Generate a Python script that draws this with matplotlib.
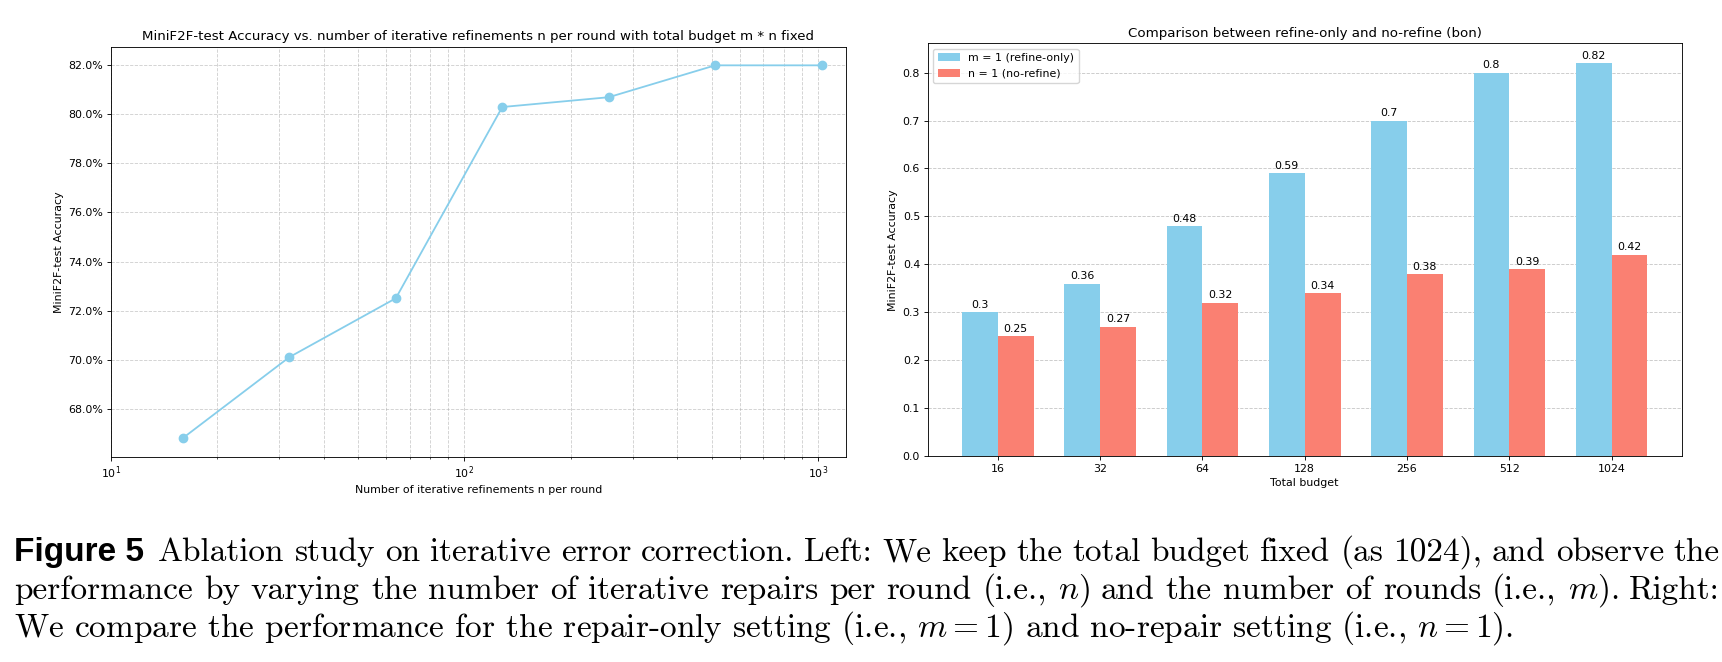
"""
Figure 5: ablation on iterative error correction (miniF2F-test).
Left: accuracy vs. refinements per round n (budget m*n = 1024 fixed).
Right: refine-only (m=1) vs. no-refine (n=1) across total budgets.
"""

import matplotlib
matplotlib.use("Agg")
import matplotlib.pyplot as plt
import matplotlib.ticker as ticker
import numpy as np

# left panel
n_per_round = [16, 32, 64, 128, 256, 512, 1024]
acc_fixed_budget = [0.668, 0.701, 0.725, 0.803, 0.807, 0.820, 0.820]

# right panel
budgets = ["16", "32", "64", "128", "256", "512", "1024"]
refine_only = [0.30, 0.36, 0.48, 0.59, 0.70, 0.80, 0.82]
no_refine = [0.25, 0.27, 0.32, 0.34, 0.38, 0.39, 0.42]

caption_lines = [
    r"Ablation study on iterative error correction. Left: We keep the total budget fixed (as 1024), and observe the",
    r"performance by varying the number of iterative repairs per round (i.e., $n$) and the number of rounds (i.e., $m$). Right:",
    r"We compare the performance for the repair-only setting (i.e., $m=1$) and no-repair setting (i.e., $n=1$).",
]

# the original plots were rendered bigger and shrunk into the page,
# so scale default paddings / line widths by roughly the same factor
S = 0.79
FS = 7.9      # ticks / labels
TFS = 9.6     # titles
plt.rcParams.update({
    "axes.linewidth": 0.8 * S,
    "grid.linewidth": 0.8 * S,
    "xtick.major.size": 3.5 * S, "ytick.major.size": 3.5 * S,
    "xtick.minor.size": 2.0 * S, "ytick.minor.size": 2.0 * S,
    "xtick.major.width": 0.8 * S, "ytick.major.width": 0.8 * S,
    "xtick.minor.width": 0.6 * S, "ytick.minor.width": 0.6 * S,
    "xtick.major.pad": 3.5 * S, "ytick.major.pad": 3.5 * S,
    "xtick.minor.pad": 3.4 * S,
    "axes.labelpad": 4.0 * S,
    "axes.titlepad": 6.0 * S,
})

W, H = 1722, 662
fig = plt.figure(figsize=(W / 100, H / 100), dpi=100)

def px_axes(x0, y0, x1, y1):
    return fig.add_axes([x0 / W, 1 - y1 / H, (x1 - x0) / W, (y1 - y0) / H])

# ---- left: fixed budget sweep
ax1 = px_axes(110.7, 46.7, 846, 456.7)
ax1.plot(n_per_round, acc_fixed_budget, marker="o", color="skyblue",
         lw=1.3, ms=6)
ax1.set_xscale("log")
ax1.set_xlim(10, 1200)
ax1.yaxis.set_major_locator(ticker.MultipleLocator(0.02))
ax1.yaxis.set_major_formatter(ticker.PercentFormatter(1.0, decimals=1))
ax1.grid(True, which="both", ls="--", alpha=0.6)
ax1.set_title("MiniF2F-test Accuracy vs. number of iterative refinements n per round "
              "with total budget m * n fixed", fontsize=TFS)
ax1.set_xlabel("Number of iterative refinements n per round", fontsize=FS)
ax1.set_ylabel("MiniF2F-test Accuracy", fontsize=FS)
ax1.tick_params(labelsize=FS)

# ---- right: refine-only vs no-refine
ax2 = px_axes(927.7, 43.3, 1681.7, 456.3)
x = np.arange(len(budgets))
w = 0.35
b1 = ax2.bar(x - w / 2, refine_only, w, color="skyblue", label="m = 1 (refine-only)")
b2 = ax2.bar(x + w / 2, no_refine, w, color="salmon", label="n = 1 (no-refine)")
for bars in (b1, b2):
    for r in bars:
        h = r.get_height()
        ax2.text(r.get_x() + r.get_width() / 2, h + 0.005, f"{h:g}",
                 ha="center", va="bottom", fontsize=FS)
ax2.set_xticks(x)
ax2.set_xticklabels(budgets)
ax2.yaxis.set_major_locator(ticker.MultipleLocator(0.1))
ax2.grid(True, axis="y", ls="--", alpha=0.7)
ax2.set_axisbelow(True)
ax2.set_title("Comparison between refine-only and no-refine (bon)", fontsize=TFS)
ax2.set_xlabel("Total budget", fontsize=FS)
ax2.set_ylabel("MiniF2F-test Accuracy", fontsize=FS)
ax2.tick_params(labelsize=FS)
ax2.legend(loc="upper left", fontsize=FS)

# ---- caption (lines 1-2 justified, like the paper)
cap_fs = 24
left_px, right_px = 14, 1720
baselines = [561, 599, 637]
cap_kw = dict(fontsize=cap_fs, family="cmr10", math_fontfamily="cm", va="baseline", ha="left")

lbl = fig.text(left_px / W, 1 - baselines[0] / H, "Figure 5", fontsize=cap_fs,
               weight="bold", family="Liberation Sans", va="baseline", ha="left")
fig.canvas.draw()
renderer = fig.canvas.get_renderer()
start_first = lbl.get_window_extent(renderer).x1 + 14

for i, line in enumerate(caption_lines):
    x0 = start_first if i == 0 else left_px
    y = 1 - baselines[i] / H
    if i == len(caption_lines) - 1:
        fig.text(x0 / W, y, line, **cap_kw)
        continue
    words = line.split(" ")
    txts = [fig.text(0, y, wd, **cap_kw) for wd in words]
    widths = [t.get_window_extent(renderer).width for t in txts]
    gap = (right_px - x0 - sum(widths)) / (len(words) - 1)
    cx = x0
    for t, wd in zip(txts, widths):
        t.set_x(cx / W)
        cx += wd + gap

fig.savefig("out.png", dpi=100)
